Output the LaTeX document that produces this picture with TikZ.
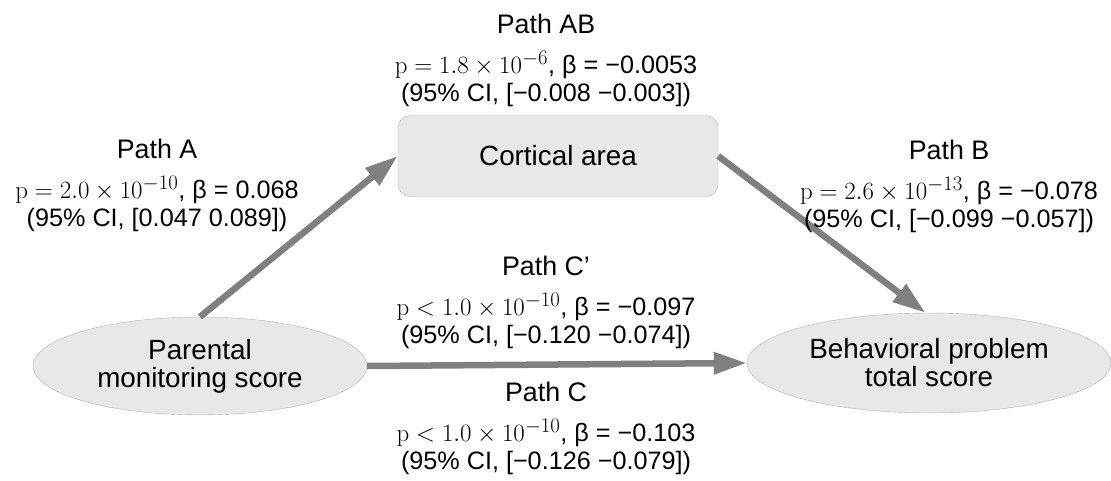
\documentclass[tikz,border=0pt]{standalone}
\usepackage[no-math]{fontspec}
\setmainfont{Liberation Sans}
\usetikzlibrary{shapes.geometric,arrows.meta}
\definecolor{boxfill}{HTML}{E8E8E8}
\definecolor{boxline}{HTML}{B4B4B4}
\definecolor{arrowgray}{HTML}{808080}
\tikzset{ %styles for the mediation picture
  varbox/.style={draw=boxline,fill=boxfill,rectangle,rounded corners=12pt,
    minimum width=320pt,minimum height=81pt,inner sep=0pt,
    font=\fontsize{27.8pt}{28pt}\selectfont},
  varell/.style={draw=boxline,fill=boxfill,ellipse,inner sep=0pt,align=center,
    font=\fontsize{27.8pt}{28pt}\selectfont},
  pathlab/.style={align=center,anchor=north,inner sep=0pt},
  patharrow/.style={draw=arrowgray,line width=6.5pt,
    -{Triangle[length=33pt,width=21pt]}}
}
\newcommand{\pathtext}[3]{{\fontsize{26.8pt}{28pt}\selectfont Path #1}\\[12pt]{\fontsize{28.5pt}{28pt}\selectfont$#2$},~β = #3}
\newcommand{\citext}[1]{(95\% CI, [#1])}

\begin{document}
\begin{tikzpicture}[x=1pt,y=-1pt,font=\fontsize{25.2pt}{28pt}\selectfont] % one unit is one pixel
\useasboundingbox (0,0) rectangle (1111,480);

% variables
\node [varell,minimum width=334pt,minimum height=98pt] (pm) at (200,366) {Parental\\monitoring score};
\node [varbox] (ca) at (558,156) {Cortical area};
\node [varell,minimum width=364pt,minimum height=100pt] (bp) at (929,363) {Behavioral problem\\total score};

% paths
\draw [patharrow] (pm.north) -- (ca.west);
\draw [patharrow] (ca.east) -- (bp.94);
\draw [patharrow] (pm.east) -- (bp.west);

% path labels
\node [pathlab] (labAB) at (546,14) {\pathtext{AB}{\mathrm{p} = 1.8 \times 10^{-6}}{−0.0053}\\\citext{−0.008 −0.003}};
\node [pathlab] (labA) at (157,139) {\pathtext{A}{\mathrm{p} = 2.0 \times 10^{-10}}{0.068}\\\citext{0.047 0.089}};
\node [pathlab] (labB) at (949,140) {\pathtext{B}{\mathrm{p} = 2.6 \times 10^{-13}}{−0.078}\\\citext{−0.099 −0.057}};
\node [pathlab] (labCp) at (546,256) {\pathtext{C’}{\mathrm{p} < 1.0 \times 10^{-10}}{−0.097}\\\citext{−0.120 −0.074}};
\node [pathlab] (labC) at (546,382) {\pathtext{C}{\mathrm{p} < 1.0 \times 10^{-10}}{−0.103}\\\citext{−0.126 −0.079}};

\end{tikzpicture}
\end{document}
